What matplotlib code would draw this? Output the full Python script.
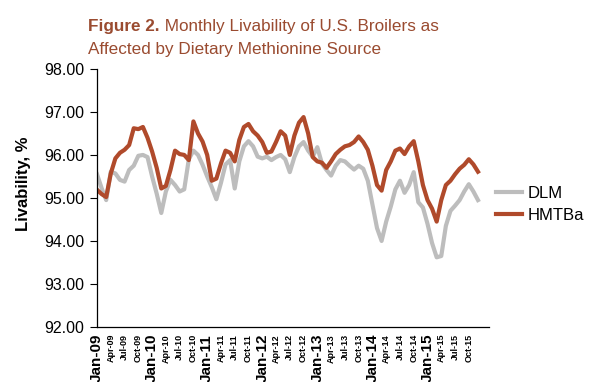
import matplotlib
matplotlib.use('Agg')
import matplotlib.pyplot as plt
from matplotlib import font_manager as fm

# monthly livability, Jan-09 .. Dec-15
months = ['Jan', 'Feb', 'Mar', 'Apr', 'May', 'Jun',
          'Jul', 'Aug', 'Sep', 'Oct', 'Nov', 'Dec']
years = ['09', '10', '11', '12', '13', '14', '15']
month_labels = [f"{m}-{y}" for y in years for m in months]

dlm = [95.55, 95.23, 94.95, 95.61, 95.57, 95.42, 95.38, 95.65, 95.75, 95.98, 96.00, 95.95,
       95.50, 95.10, 94.65, 95.15, 95.42, 95.30, 95.15, 95.20, 95.90, 96.10, 96.00, 95.77,
       95.50, 95.25, 94.97, 95.35, 95.78, 95.88, 95.22, 95.85, 96.20, 96.32, 96.20, 95.96,
       95.92, 95.96, 95.88, 95.95, 96.00, 95.90, 95.60, 95.95, 96.20, 96.30, 96.10, 95.96,
       96.18, 95.80, 95.65, 95.52, 95.75, 95.88, 95.85, 95.75, 95.66, 95.75, 95.68, 95.40,
       94.85, 94.30, 94.00, 94.45, 94.80, 95.20, 95.40, 95.12, 95.30, 95.60, 94.90, 94.78,
       94.40, 93.95, 93.62, 93.65, 94.35, 94.70, 94.82, 94.95, 95.15, 95.32, 95.15, 94.95]

hmtba = [95.19, 95.09, 95.02, 95.57, 95.92, 96.05, 96.12, 96.23, 96.62, 96.60, 96.65, 96.40,
         96.08, 95.70, 95.22, 95.28, 95.65, 96.10, 96.02, 96.00, 95.88, 96.78, 96.50, 96.31,
         96.00, 95.40, 95.45, 95.80, 96.10, 96.05, 95.85, 96.35, 96.65, 96.72, 96.55, 96.45,
         96.30, 96.05, 96.08, 96.30, 96.55, 96.45, 96.00, 96.45, 96.75, 96.88, 96.50, 95.95,
         95.85, 95.82, 95.70, 95.85, 96.02, 96.12, 96.20, 96.23, 96.30, 96.43, 96.30, 96.12,
         95.75, 95.30, 95.17, 95.65, 95.85, 96.10, 96.15, 96.02, 96.20, 96.32, 95.85, 95.30,
         94.95, 94.75, 94.45, 94.95, 95.30, 95.40, 95.55, 95.68, 95.77, 95.90, 95.78, 95.61]

series_names = ['DLM', 'HMTBa']
series_colors = ['#bdbdbd', '#b04a2b']
title_color = '#9a4b30'

installed = {f.name for f in fm.fontManager.ttflist}
base_font = 'Liberation Sans' if 'Liberation Sans' in installed else 'DejaVu Sans'
narrow_font = 'Liberation Sans Narrow' if 'Liberation Sans Narrow' in installed else base_font
plt.rcParams['font.family'] = base_font

fig = plt.figure(figsize=(6.0, 3.82), dpi=100)
ax = fig.add_axes([0.1617, 0.144, 0.6533, 0.6756])

x = list(range(len(dlm)))
ax.plot(x, dlm, color=series_colors[0], lw=3.0, label=series_names[0], solid_joinstyle='round')
ax.plot(x, hmtba, color=series_colors[1], lw=3.0, label=series_names[1], solid_joinstyle='round')

ax.set_ylim(92, 98)
ax.set_yticks([92, 93, 94, 95, 96, 97, 98])
ax.set_yticklabels([f"{v:.2f}" for v in range(92, 99)], fontsize=11.5)
ax.set_xlim(0, 85.4)

tick_pos = x[::3]
ax.set_xticks(tick_pos)
ax.set_xticklabels([month_labels[i] for i in tick_pos], rotation=90, family=narrow_font,
                   fontweight='bold')
for i, lab in zip(tick_pos, ax.get_xticklabels()):
    lab.set_fontsize(11 if month_labels[i].startswith('Jan') else 6.5)
ax.tick_params(axis='x', length=0, pad=5)
ax.tick_params(axis='y', direction='out', length=5, width=0.8, pad=4)

for side in ['top', 'right']:
    ax.spines[side].set_visible(False)
for side in ['left', 'bottom']:
    ax.spines[side].set_linewidth(0.9)

fig.text(0.04, 0.52, 'Livability, %', rotation=90, fontsize=12, fontweight='bold',
         ha='center', va='center')

leg = ax.legend(loc='center left', bbox_to_anchor=(1.0, 0.475), frameon=False, fontsize=12,
                handlelength=1.6, handletextpad=0.3, labelspacing=0.45, borderaxespad=0.2,
                borderpad=0.2)

# two-part title: bold "Figure 2." followed by regular text
t1 = fig.text(0.147, 0.918, 'Figure 2.', fontsize=12.3, fontweight='bold', color=title_color,
              ha='left', va='baseline')
ax.annotate(' Monthly Livability of U.S. Broilers as', xy=(1, 0), xycoords=t1,
            fontsize=12.3, color=title_color, ha='left', va='bottom')
fig.text(0.147, 0.858, 'Affected by Dietary Methionine Source', fontsize=12.3,
         color=title_color, ha='left', va='baseline')

fig.savefig('out.png', dpi=100)
